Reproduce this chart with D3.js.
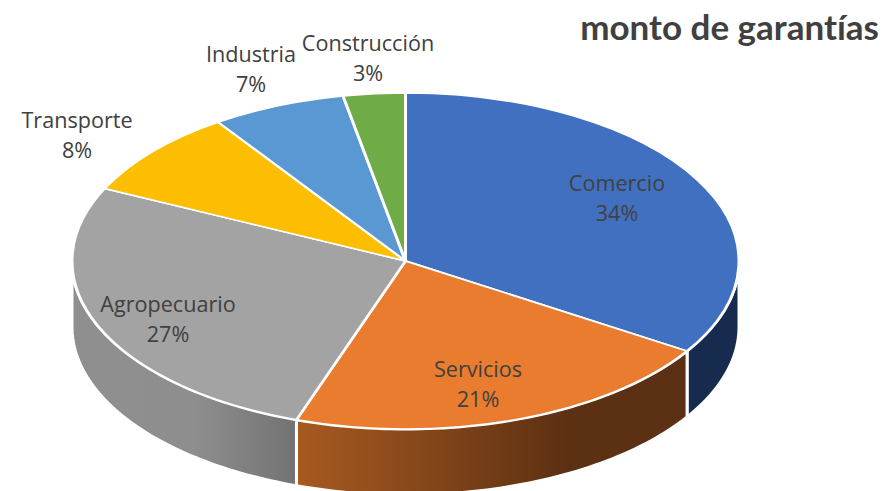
<!DOCTYPE html>
<html>
<head>
<meta charset="utf-8">
<script src="https://cdn.jsdelivr.net/npm/d3@7"></script>
<style>
html, body { margin: 0; background: #fff; }
svg { display: block; }
text { fill: #404040; font-family: "Open Sans", sans-serif; font-size: 21.6px; font-variant-ligatures: none; }
</style>
</head>
<body>
<svg id="drawing_region" width="886" height="491"></svg>
<script>
const categories = ["Comercio", "Servicios", "Agropecuario", "Transporte", "Industria", "Construcción"];
// the labels only show them rounded
const shares = [34, 21.3, 26.8, 8.4, 6.5, 3];
const topColors = ["#4270c0", "#ea7c30", "#a3a3a3", "#fdbd00", "#5a98d4", "#6fab47"];
const title = "monto de garantías";

// where each label sits, centre of first line
const labelX = [617, 478, 168, 77, 251, 368];
const labelY = [183.5, 369.5, 304.5, 120.5, 54.5, 43.5];

// side wall shading, left and right colour
const wallLeft = ["#172b4f", "#a85a20", "#8f8f8f"];
const wallRight = ["#172b4f", "#5c3012", "#727272"];

const svg = d3.select("#drawing_region");
const cx = 405.5, cy = 261, rx = 333.5, ry = 168, depth = 66;

const pie = d3.pie().sort(null).startAngle(0).endAngle(2 * Math.PI);
const arcs = pie(shares);

const arc = d3.arc().innerRadius(0).outerRadius(rx);
const defs = svg.append("defs");

const px = a => cx + rx * Math.sin(a);
const py = a => cy - ry * Math.cos(a);

// side walls, only the front half of the ellipse can be seen
const wallLine = d3.line();
arcs.forEach((d, i) => {
    const a0 = Math.max(d.startAngle, Math.PI / 2);
    const a1 = Math.min(d.endAngle, 3 * Math.PI / 2);
    if (a0 >= a1) return;

    const angles = d3.range(0, 61).map(k => a0 + (a1 - a0) * k / 60);
    const top = angles.map(a => [px(a), py(a)]);
    const bottom = angles.slice().reverse().map(a => [px(a), py(a) + depth]);

    const x0 = d3.min(top, p => p[0]), x1 = d3.max(top, p => p[0]);
    const grad = defs.append("linearGradient")
        .attr("id", "wall" + i)
        .attr("gradientUnits", "userSpaceOnUse")
        .attr("x1", x0).attr("x2", i == 1 ? x0 + (x1 - x0) * 0.7 : x1)
        .attr("y1", 0).attr("y2", 0);
    grad.append("stop").attr("offset", 0).attr("stop-color", wallLeft[i]);
    if (i == 2) grad.append("stop").attr("offset", 0.55).attr("stop-color", "#8e8e8e");
    grad.append("stop").attr("offset", 1).attr("stop-color", wallRight[i]);

    svg.append("path")
        .attr("d", wallLine(top.concat(bottom)) + "Z")
        .attr("fill", `url(#wall${i})`)
        .attr("stroke", "#fff")
        .attr("stroke-width", 3);
});

// top of the pie is a circle squashed into the ellipse
svg.append("g")
    .attr("transform", `translate(${cx},${cy}) scale(1,${ry / rx})`)
    .selectAll("path")
    .data(arcs)
    .enter()
    .append("path")
    .attr("d", arc)
    .attr("fill", (d, i) => topColors[i])
    .attr("stroke", "#fff")
    .attr("stroke-width", 3)
    .attr("stroke-linejoin", "round");

const labels = svg.append("g")
    .selectAll("text")
    .data(categories)
    .enter()
    .append("text")
    .attr("text-anchor", "middle");

labels.append("tspan")
    .attr("x", (d, i) => labelX[i])
    .attr("y", (d, i) => labelY[i] + 7)
    .text(d => d);

labels.append("tspan")
    .attr("x", (d, i) => labelX[i])
    .attr("y", (d, i) => labelY[i] + 37)
    .text((d, i) => Math.round(shares[i]) + "%");

svg.append("text")
    .attr("x", 879)
    .attr("y", 40)
    .attr("text-anchor", "end")
    .style("font-family", "Lato, sans-serif")
    .style("font-weight", 700)
    .style("font-size", "35px")
    .text(title);
</script>
</body>
</html>
